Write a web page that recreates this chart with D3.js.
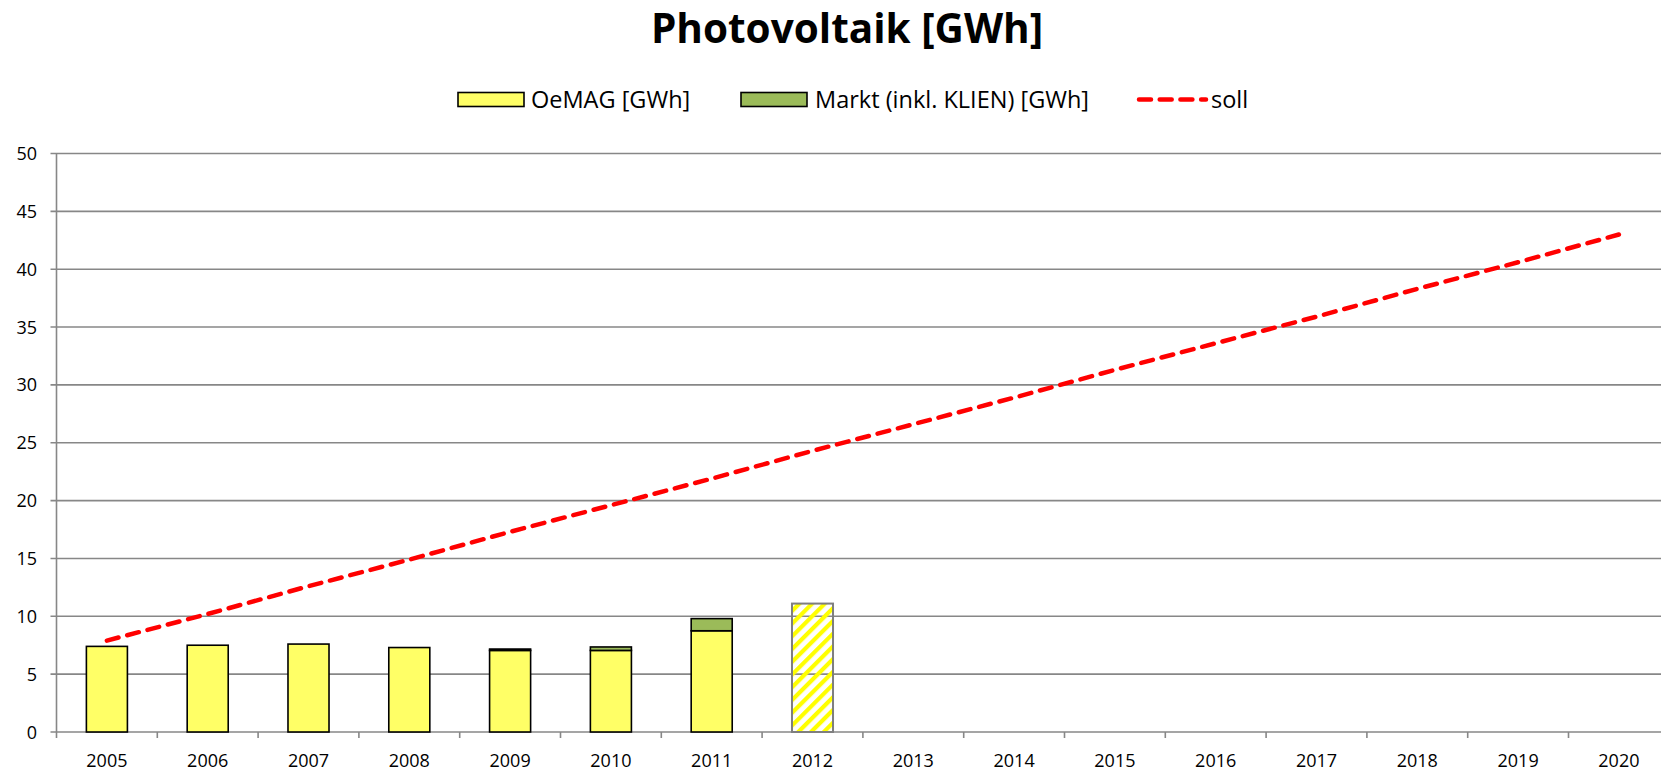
<!DOCTYPE html>
<html>
<head>
<meta charset="utf-8">
<script src="https://cdn.jsdelivr.net/npm/d3@7"></script>
<style>
    body { margin: 0; background: #fff; }
    svg text { font-family: "Open Sans", "Noto Sans", sans-serif; fill: #000; }
</style>
</head>
<body>
<div id="chart"></div>
<script>
// data
const years = ["2005", "2006", "2007", "2008", "2009", "2010", "2011", "2012", "2013", "2014", "2015", "2016", "2017", "2018", "2019", "2020"];
const oemag = [7.4, 7.5, 7.6, 7.3, 7.05, 7.05, 8.75, null, null, null, null, null, null, null, null, null];
const markt = [0, 0, 0, 0, 0.12, 0.3, 1.05, null, null, null, null, null, null, null, null, null];
const prognose = [null, null, null, null, null, null, null, 11.1, null, null, null, null, null, null, null, null];
const soll = [7.9, 10.2, 12.6, 14.9, 17.3, 19.6, 21.9, 24.3, 26.6, 28.9, 31.3, 33.6, 35.9, 38.3, 40.6, 43.0];
const yTicks = [0, 5, 10, 15, 20, 25, 30, 35, 40, 45, 50];
const legendItems = ["OeMAG [GWh]", "Markt (inkl. KLIEN) [GWh]", "soll"];

var width = 1661, height = 772;
var margin = { top: 153.5, left: 56.5, bottom: 732 };

var svg = d3.select("#chart")
    .append("svg")
    .attr("width", width)
    .attr("height", height);

// hatch for 2012
svg.append("defs")
    .append("pattern")
    .attr("id", "hatch")
    .attr("patternUnits", "userSpaceOnUse")
    .attr("width", 9)
    .attr("height", 9)
    .attr("patternTransform", "rotate(45)")
    .append("rect")
    .attr("width", 4.2)
    .attr("height", 9)
    .attr("fill", "#ffff00");

var x = d3.scaleBand()
    .domain(years)
    .range([margin.left, margin.left + 16 * 100.8])
    .paddingInner(0.593)
    .paddingOuter(0.2965);

var y = d3.scaleLinear()
    .domain([0, 50])
    .range([margin.bottom, margin.top]);

var step = x.step();

// gridlines
svg.append("g")
    .selectAll("line")
    .data(yTicks)
    .enter()
    .append("line")
    .attr("x1", margin.left - 6)
    .attr("x2", width)
    .attr("y1", d => y(d))
    .attr("y2", d => y(d))
    .attr("stroke", "#878787")
    .attr("stroke-width", 1.6);

// y axis line
svg.append("line")
    .attr("x1", margin.left)
    .attr("x2", margin.left)
    .attr("y1", y(50))
    .attr("y2", y(0))
    .attr("stroke", "#878787")
    .attr("stroke-width", 1.6);

// x ticks between categories
svg.append("g")
    .selectAll("line")
    .data(d3.range(years.length + 1))
    .enter()
    .append("line")
    .attr("x1", i => margin.left + i * step)
    .attr("x2", i => margin.left + i * step)
    .attr("y1", y(0))
    .attr("y2", y(0) + 6)
    .attr("stroke", "#878787")
    .attr("stroke-width", 1.6);

// y labels
svg.append("g")
    .selectAll("text")
    .data(yTicks)
    .enter()
    .append("text")
    .attr("x", 37)
    .attr("y", d => y(d) + 6.5)
    .attr("text-anchor", "end")
    .style("font-size", "18px")
    .text(d => d);

// x labels
svg.append("g")
    .selectAll("text")
    .data(years)
    .enter()
    .append("text")
    .attr("x", d => x(d) + x.bandwidth() / 2)
    .attr("y", 767)
    .attr("text-anchor", "middle")
    .style("font-size", "18px")
    .text(d => d);

// bars
var bars = svg.append("g");

bars.selectAll("rect.oemag")
    .data(years.filter((d, i) => oemag[i] != null))
    .enter()
    .append("rect")
    .attr("class", "oemag")
    .attr("x", d => x(d))
    .attr("width", x.bandwidth())
    .attr("y", d => y(oemag[years.indexOf(d)]))
    .attr("height", d => y(0) - y(oemag[years.indexOf(d)]))
    .attr("fill", "#ffff66")
    .attr("stroke", "#000")
    .attr("stroke-width", 1.6);

bars.selectAll("rect.markt")
    .data(years.filter((d, i) => markt[i] > 0))
    .enter()
    .append("rect")
    .attr("class", "markt")
    .attr("x", d => x(d))
    .attr("width", x.bandwidth())
    .attr("y", function (d) {
        var i = years.indexOf(d);
        return y(oemag[i] + markt[i]);
    })
    .attr("height", function (d) {
        var i = years.indexOf(d);
        return y(oemag[i]) - y(oemag[i] + markt[i]);
    })
    .attr("fill", "#9bbb59")
    .attr("stroke", "#000")
    .attr("stroke-width", 1.6);

bars.selectAll("rect.prog")
    .data(years.filter((d, i) => prognose[i] != null))
    .enter()
    .append("rect")
    .attr("class", "prog")
    .attr("x", d => x(d))
    .attr("width", x.bandwidth())
    .attr("y", d => y(prognose[years.indexOf(d)]))
    .attr("height", d => y(0) - y(prognose[years.indexOf(d)]))
    .attr("fill", "url(#hatch)")
    .attr("stroke", "#7f7f7f")
    .attr("stroke-width", 2);

// soll line
var line = d3.line()
    .x((d, i) => x(years[i]) + x.bandwidth() / 2)
    .y(d => y(d));

svg.append("path")
    .datum(soll)
    .attr("d", line)
    .attr("fill", "none")
    .attr("stroke", "#ff0000")
    .attr("stroke-width", 4.5)
    .attr("stroke-linecap", "round")
    .attr("stroke-dasharray", "12,9");

// title
svg.append("text")
    .attr("x", 847)
    .attr("y", 43)
    .attr("text-anchor", "middle")
    .style("font-size", "40.5px")
    .style("font-weight", "bold")
    .text("Photovoltaik [GWh]");

// legend
var legend = svg.append("g");

legend.append("rect")
    .attr("x", 458).attr("y", 92.5)
    .attr("width", 66).attr("height", 14)
    .attr("fill", "#ffff66").attr("stroke", "#000").attr("stroke-width", 1.6);
legend.append("text")
    .attr("x", 531).attr("y", 107.5)
    .style("font-size", "23.5px")
    .text(legendItems[0]);

legend.append("rect")
    .attr("x", 741).attr("y", 92.5)
    .attr("width", 66).attr("height", 14)
    .attr("fill", "#9bbb59").attr("stroke", "#000").attr("stroke-width", 1.6);
legend.append("text")
    .attr("x", 815).attr("y", 107.5)
    .style("font-size", "23.5px")
    .text(legendItems[1]);

legend.append("line")
    .attr("x1", 1139).attr("x2", 1206)
    .attr("y1", 99.5).attr("y2", 99.5)
    .attr("stroke", "#ff0000")
    .attr("stroke-width", 4.5)
    .attr("stroke-linecap", "round")
    .attr("stroke-dasharray", "12,8.7");
legend.append("text")
    .attr("x", 1211).attr("y", 107.5)
    .style("font-size", "23.5px")
    .text(legendItems[2]);
</script>
</body>
</html>
